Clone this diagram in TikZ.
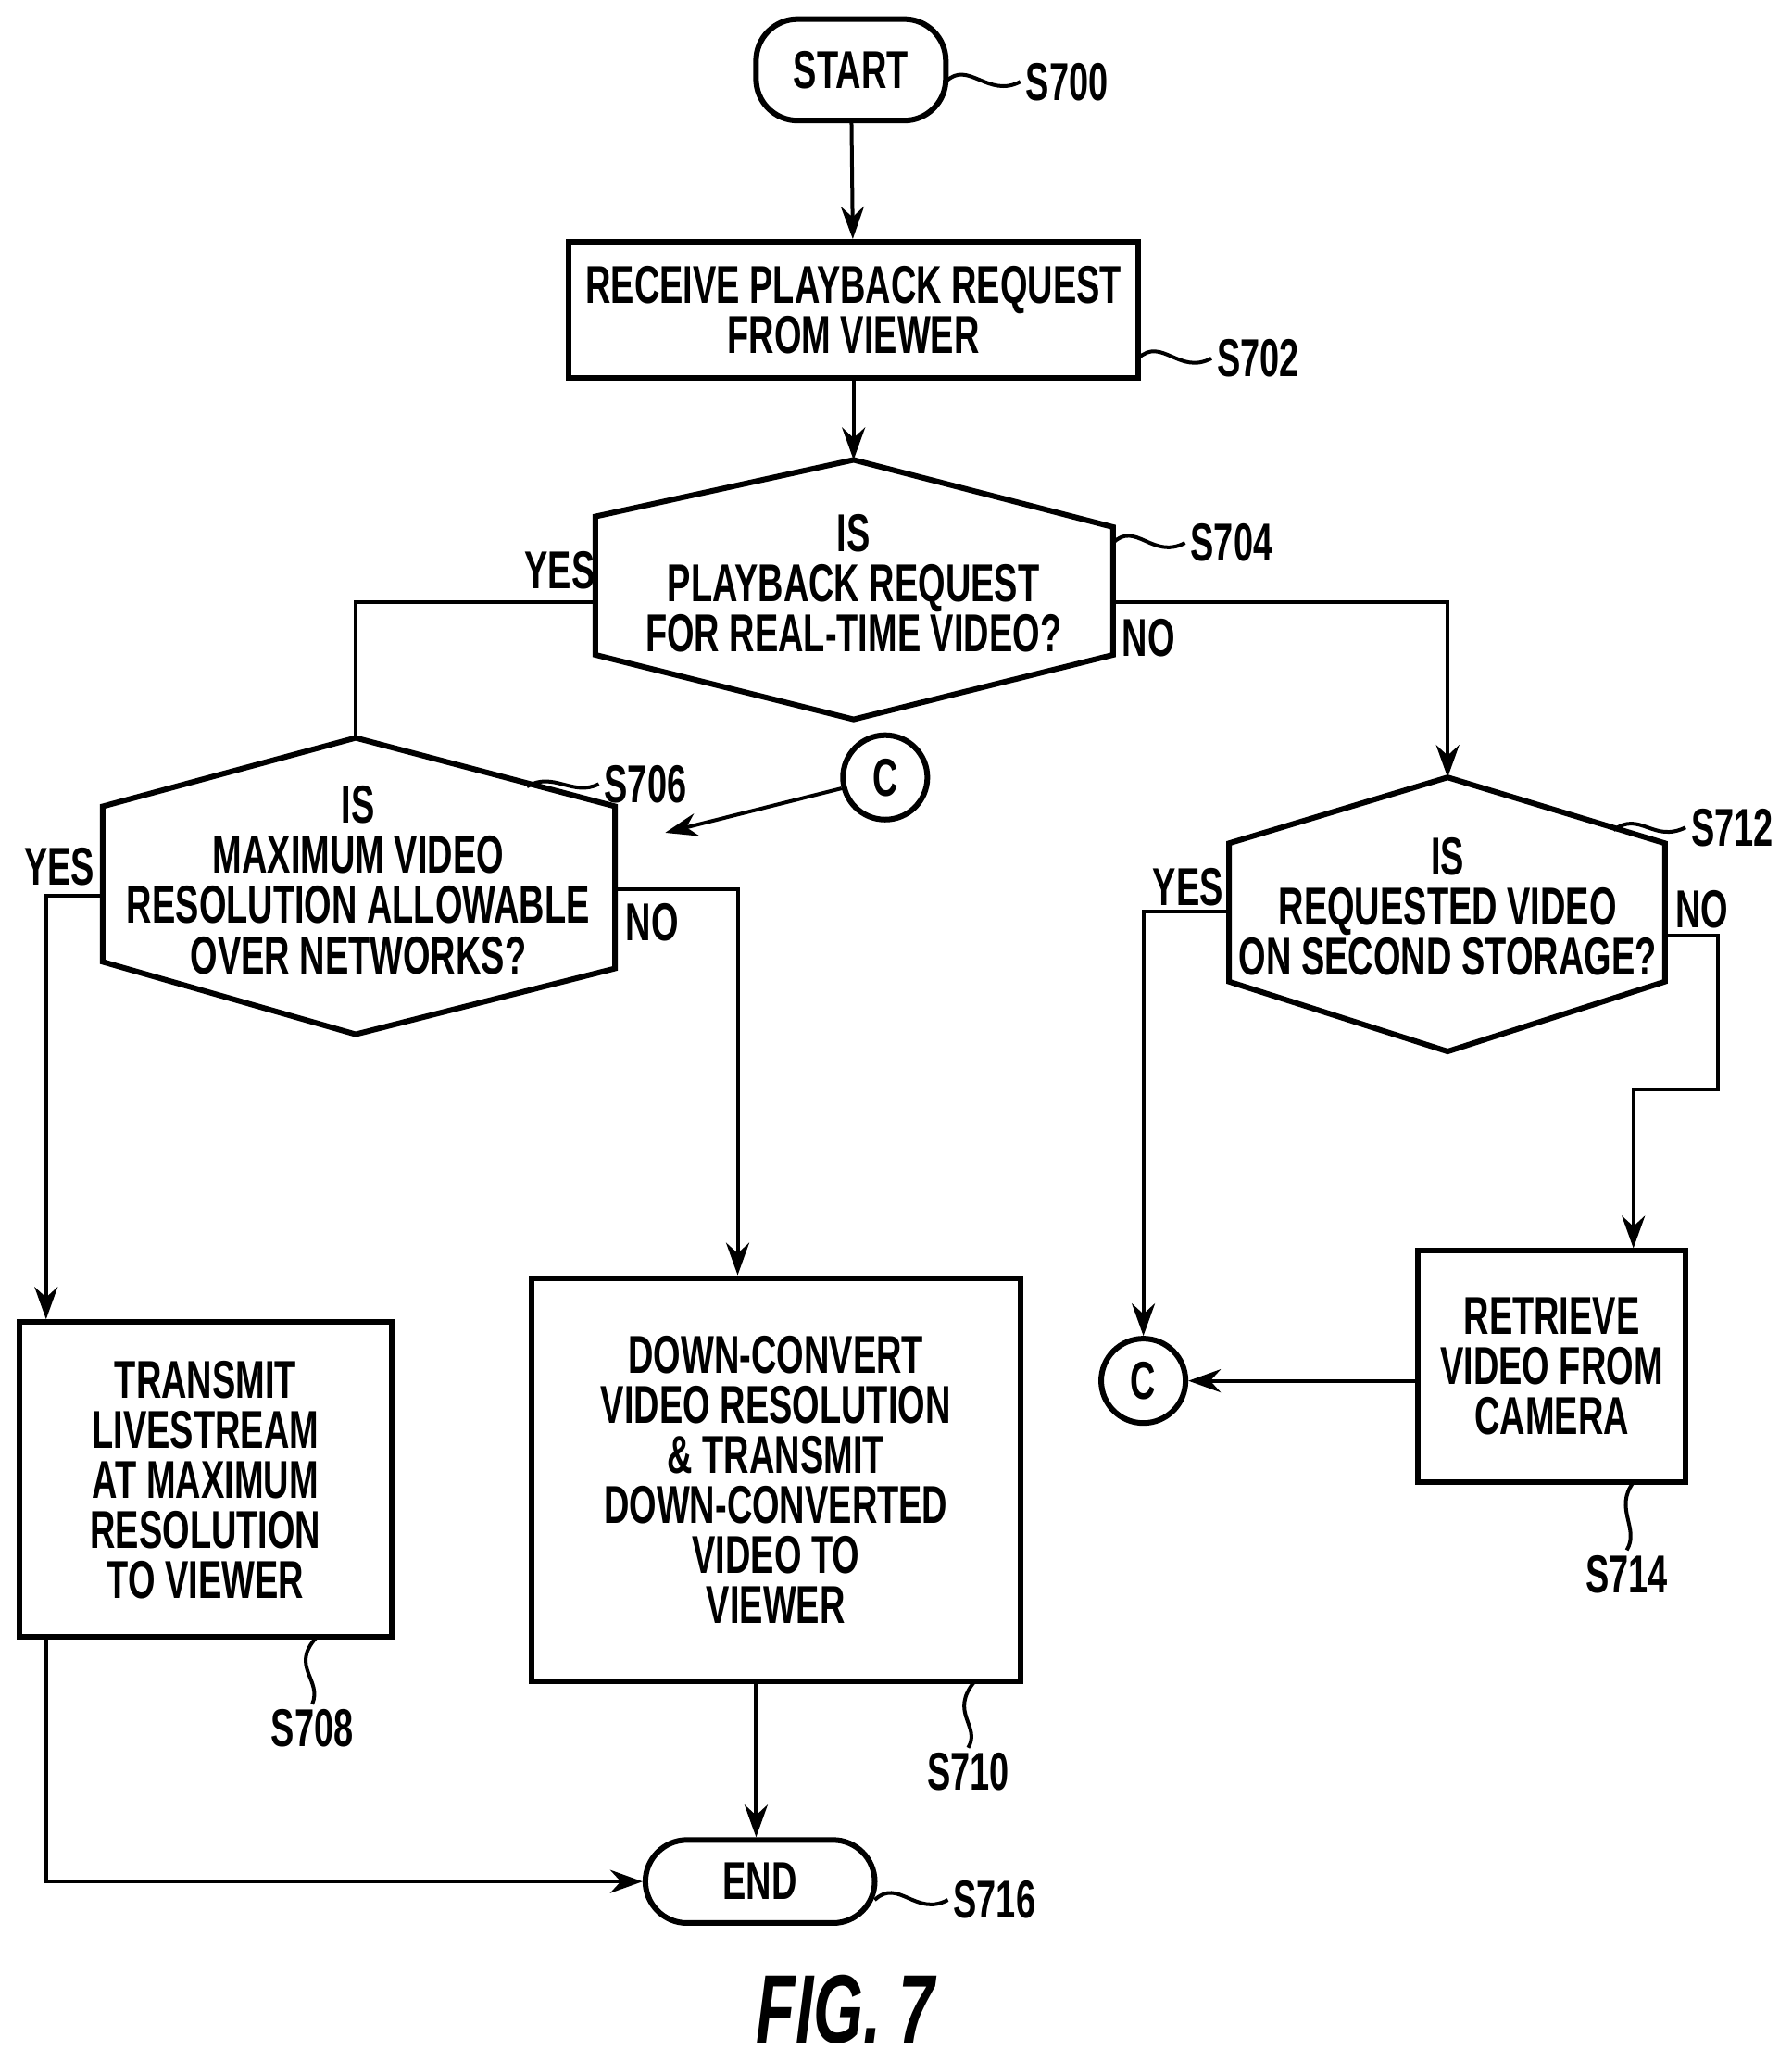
\documentclass[tikz,border=0pt]{standalone}
\usepackage{fontspec}
\setmainfont{Liberation Sans}[FakeStretch=0.66]
\usetikzlibrary{arrows.meta, positioning, calc}

\begin{document}
\begin{tikzpicture}[x=0.01cm, y=-0.01cm, >={Stealth[length=7pt,width=5pt]},
    font=\fontsize{11.5}{10.8}\selectfont\bfseries]
\tikzset{
    box/.style={rectangle, draw, line width=1.2pt, align=center, inner sep=2pt},
    term/.style={rectangle, rounded corners=9pt, draw, line width=1.2pt, align=center},
    conn/.style={circle, draw, line width=1.2pt, minimum size=0.64cm, inner sep=0pt},
    hexa/.style={line width=1.2pt},
    line/.style={line width=0.8pt},
    tag/.style={inner sep=1pt}
}
\useasboundingbox (0,0) rectangle (1360,1565);

% --- terminals and boxes ---
\node (start) at (646,53) [term, minimum width=1.44cm, minimum height=0.77cm] {START};
\node (recv) at (648,235) [box, minimum width=4.32cm, minimum height=1.03cm] {RECEIVE PLAYBACK REQUEST\\FROM VIEWER};
\node (live) at (156,1123) [box, minimum width=2.83cm, minimum height=2.39cm] {TRANSMIT\\LIVESTREAM\\AT MAXIMUM\\RESOLUTION\\TO VIEWER};
\node (down) at (589,1123) [box, minimum width=3.71cm, minimum height=3.06cm] {DOWN-CONVERT\\VIDEO RESOLUTION\\\& TRANSMIT\\DOWN-CONVERTED\\VIDEO TO\\VIEWER};
\node (cam) at (1178,1037) [box, minimum width=2.03cm, minimum height=1.75cm] {RETRIEVE\\VIDEO FROM\\CAMERA};
\node (end) at (577,1428) [term, minimum width=1.74cm, minimum height=0.63cm] {END};
\node (c1) at (672,590) [conn] {C};
\node (c2) at (868,1048) [conn] {C};

% --- decisions ---
\node (q704) at (648,443) [align=center] {IS\\PLAYBACK REQUEST\\FOR REAL-TIME VIDEO?};
\draw[hexa] (452,392) -- (648,349) coordinate (q704t) -- (845,400) -- (845,497) -- (648,546) -- (452,497) -- cycle;
\node (q706) at (272,668) [align=center] {IS\\MAXIMUM VIDEO\\RESOLUTION ALLOWABLE\\OVER NETWORKS?};
\draw[hexa] (78,612) -- (270,560) coordinate (q706t) -- (467,612) -- (467,735) -- (270,785) -- (78,730) -- cycle;
\node (q712) at (1099,688) [align=center] {IS\\REQUESTED VIDEO\\ON SECOND STORAGE?};
\draw[hexa] (933,640) -- (1099,590) coordinate (q712t) -- (1264,640) -- (1264,745) -- (1099,798) -- (933,745) -- cycle;

% --- connectors ---
\draw[line,->] (start) -- (recv);
\draw[line,->] (recv) -- (q704t);
\draw[line] (452,457) -| (q706t);
\draw[line,->] (845,457) -| (q712t);
\draw[line,->] (c1) -- (505,632);
\draw[line,->] (78,680) -| (live.north -| 35,0);
\draw[line,->] (467,675) -| (down.north -| 560,0);
\draw[line,->] (933,692) -| (c2);
\draw[line,->] (1264,710) -- (1304,710) -- (1304,827) -- (1240,827) -- (cam.north -| 1240,0);
\draw[line,->] (cam.west |- c2) -- (c2);
\draw[line,->] (live.south -| 35,0) |- (end);
\draw[line,->] (down.south -| 574,0) -- (end.north -| 574,0);

% --- yes / no ---
\node at (425,433) {YES};
\node at (872,484) {NO};
\node at (45,658) {YES};
\node at (495,700) {NO};
\node at (902,673) {YES};
\node at (1292,690) {NO};

% --- step labels ---
\node (t700) at (810,62) [tag] {S700};
\node (t702) at (955,272) [tag] {S702};
\node (t704) at (935,412) [tag] {S704};
\node (t706) at (490,595) [tag] {S706};
\node (t712) at (1315,628) [tag] {S712};
\node (t714) at (1235,1195) [tag] {S714};
\node (t708) at (237,1312) [tag] {S708};
\node (t710) at (735,1345) [tag] {S710};
\node (t716) at (755,1442) [tag] {S716};
\draw[line] (718,62) .. controls (735,45) and (750,75) .. (t700.west);
\draw[line] (864,272) .. controls (882,255) and (895,285) .. (t702.west);
\draw[line] (845,412) .. controls (862,395) and (875,425) .. (t704.west);
\draw[line] (400,597) .. controls (420,585) and (435,605) .. (t706.west);
\draw[line] (1225,630) .. controls (1245,615) and (1255,640) .. (t712.west);
\draw[line] (664,1442) .. controls (682,1425) and (695,1455) .. (t716.west);
\draw[line] (1240,1125) .. controls (1225,1145) and (1245,1160) .. (t714.north);
\draw[line] (240,1243) .. controls (220,1265) and (245,1275) .. (t708.north);
\draw[line] (740,1276) .. controls (720,1300) and (745,1310) .. (t710.north);

% --- caption ---
\node (fig) at (642,1525) [font=\fontsize{21}{21}\selectfont\bfseries\itshape] {FIG. 7};
\end{tikzpicture}
\end{document}
